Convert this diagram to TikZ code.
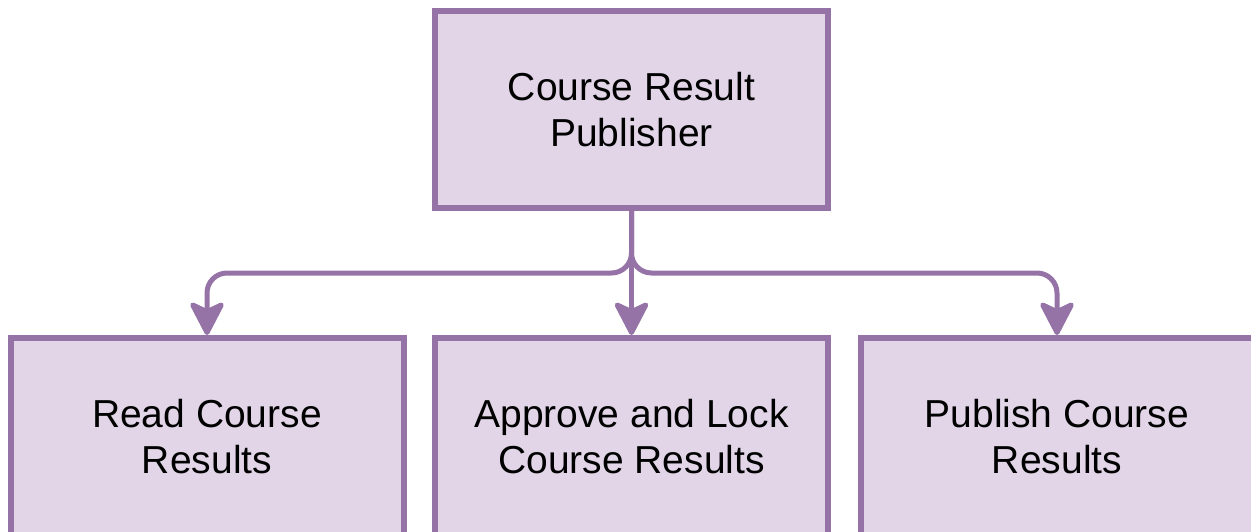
\documentclass[tikz,border=0pt]{standalone}
\usepackage{fontspec}
\setmainfont{Liberation Sans}
\usetikzlibrary{arrows.meta}
\definecolor{boxline}{HTML}{9673A6}
\definecolor{boxfill}{HTML}{E1D5E7}
\begin{document}
\begin{tikzpicture}[x=1pt,y=-1pt,
		taskbox/.style={draw=boxline,fill=boxfill,line width=6pt,minimum width=393pt,minimum height=197pt,inner sep=0pt,align=center,font=\fontsize{39}{46}\selectfont},
		flow/.style={draw=boxline,line width=5pt,rounded corners=20pt,-{Stealth[length=38pt,width=39pt,inset=9pt,round=false]}}]
		\useasboundingbox (0,0) rectangle (1251,531);
		\node[taskbox] (publisher) at (631.5,109.5) {Course Result\\Publisher};
		\node[taskbox] (read) at (207,436.5) {Read Course\\Results};
		\node[taskbox] (approve) at (631.5,436.5) {Approve and Lock\\Course Results};
		\node[taskbox] (publish) at (1057,436.5) {Publish Course\\Results};
		\coordinate (split) at (631.5,273);
		\draw[flow] (publisher.south) -- (split) -| (read.north);
		\draw[flow] (publisher.south) -- (approve.north);
		\draw[flow] (publisher.south) -- (split) -| (publish.north);
\end{tikzpicture}
\end{document}
